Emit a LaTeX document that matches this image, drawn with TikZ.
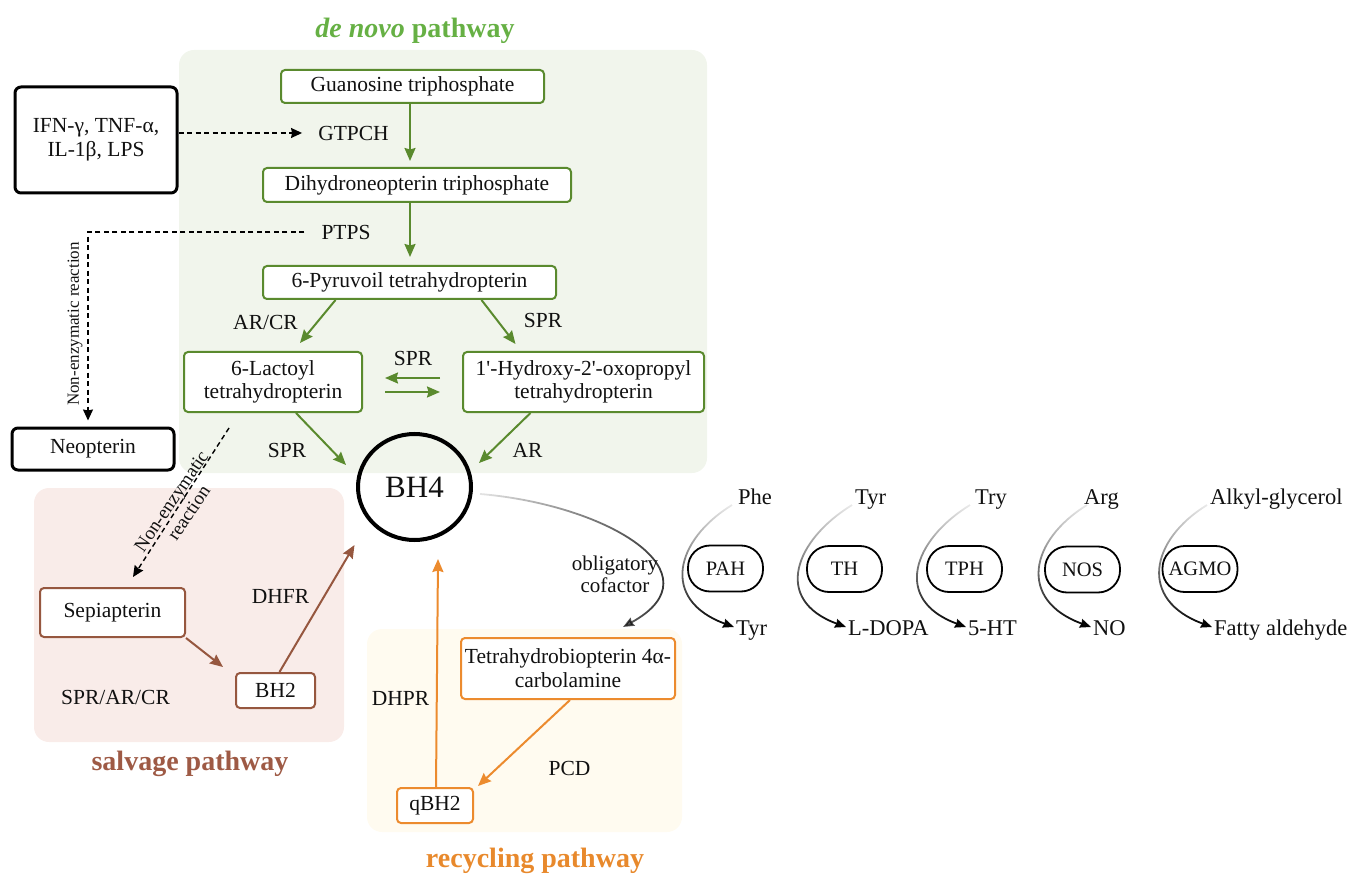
\documentclass[tikz,border=0pt]{standalone}
\usepackage{fontspec}
\setmainfont{Liberation Serif}
\usetikzlibrary{arrows.meta,shapes.geometric,fadings,calc}
\tikzfading[name=fadeH, left color=transparent!90, right color=transparent!0]
\tikzfading[name=fadeV, top color=transparent!92, middle color=transparent!15, bottom color=transparent!0]
\definecolor{gbg}{HTML}{F1F5EC}
\definecolor{pbg}{HTML}{F9ECE9}
\definecolor{ybg}{HTML}{FFFBF0}
\definecolor{gline}{HTML}{5A8A2E}
\definecolor{gtitle}{HTML}{66B044}
\definecolor{bline}{HTML}{96573F}
\definecolor{btitle}{HTML}{9E5A45}
\definecolor{oline}{HTML}{EC8B2E}
\definecolor{otitle}{HTML}{E8892C}
\definecolor{txt}{HTML}{111111}
\begin{document}
\begin{tikzpicture}[x=1pt,y=-1pt,
  every node/.style={inner sep=0pt, text=txt},
  mainf/.style={font=\fontsize{21.5}{23.5}\selectfont},
  labf/.style={font=\fontsize{22.5}{24}\selectfont},
  enzf/.style={font=\fontsize{20.5}{22}\selectfont},
  titlef/.style={font=\fontsize{28}{30}\selectfont\bfseries},
  boxbase/.style={mainf, line width=2pt, fill=white, rounded corners=4pt, align=center},
  gbox/.style={boxbase, draw=gline},
  bbox/.style={boxbase, draw=bline},
  obox/.style={boxbase, draw=oline},
  kbox/.style={boxbase, draw=black, line width=3pt, rounded corners=6pt},
  enzbox/.style={enzf, draw=black, line width=1.8pt, rounded corners=22pt, minimum width=75, minimum height=46},
  garr/.style={draw=gline, line width=2pt, -{Stealth[length=13pt,width=11pt,inset=1.5pt]}},
  barr/.style={draw=bline, line width=2pt, -{Stealth[length=13pt,width=11pt,inset=1.5pt]}},
  oarr/.style={draw=oline, line width=2pt, -{Stealth[length=13pt,width=11pt,inset=1.5pt]}},
  darr/.style={draw=black, line width=1.4pt, dash pattern=on 5pt off 3.5pt, -{Stealth[length=11pt,width=10pt,inset=1pt]}},
  carr/.style={draw=black, line width=1.8pt, -{Stealth[length=11pt,width=9pt,inset=1pt]}},
]
\useasboundingbox (0,0) rectangle (1354,874);
% backgrounds
\fill[gbg, rounded corners=15pt] (179,50) rectangle (707,473);
\fill[pbg, rounded corners=15pt] (34,488) rectangle (344,742);
\fill[ybg, rounded corners=15pt] (367,629) rectangle (682,832);
% titles
\node[titlef, text=gtitle, anchor=base] (tdenovo) at (415,38) {\textit{de novo} pathway};
\node[titlef, text=btitle, anchor=base] (tsalv) at (190,770) {salvage pathway};
\node[titlef, text=otitle, anchor=base] (trecy) at (535,867) {recycling pathway};
% de novo boxes
\node[gbox, minimum width=263, minimum height=33] (gtp) at (412.5,86.5) {Guanosine triphosphate};
\node[gbox, minimum width=308, minimum height=34] (dnt) at (417,185) {Dihydroneopterin triphosphate};
\node[gbox, minimum width=293, minimum height=33] (ptp) at (409.5,282.5) {6-Pyruvoil tetrahydropterin};
\node[gbox, minimum width=178, minimum height=60] (lac) at (273,382) {6-Lactoyl\\tetrahydropterin};
\node[gbox, minimum width=241, minimum height=60] (hyd) at (583.5,382) {1\textquotesingle-Hydroxy-2\textquotesingle-oxopropyl\\tetrahydropterin};
% BH4
\node[ellipse, draw=black, line width=4pt, minimum width=113, minimum height=106, font=\fontsize{31}{33}\selectfont] (bh4) at (414.5,487) {BH4};
% black boxes
\node[kbox, minimum width=162, minimum height=106] (ifn) at (96,140) {IFN-γ, TNF-α,\\IL-1β, LPS};
\node[kbox, minimum width=162, minimum height=42] (neo) at (93,449) {Neopterin};
% labels de novo
\node[mainf] (gtpch) at (353.5,133) {GTPCH};
\node[mainf] (ptps) at (346,232) {PTPS};
\node[mainf] (arcr) at (265.5,322) {AR/CR};
\node[mainf] (spr1) at (543,320) {SPR};
\node[mainf] (spr2) at (413,358) {SPR};
\node[mainf] (spr3) at (287,450) {SPR};
\node[mainf] (ar1) at (527.5,450) {AR};
\node[font=\fontsize{17}{19}\selectfont, rotate=90] (nelab1) at (75,324) {Non-enzymatic reaction};
\node[font=\fontsize{19}{21}\selectfont, rotate=56, align=center] (nelab2) at (180,507) {Non-enzymatic\\reaction};
% de novo arrows
\coordinate (ax) at (410,0);
\coordinate (vx) at (88,0);
\draw[garr] (gtp.south -| ax) -- ([yshift=6pt]dnt.north -| ax);
\draw[garr] (dnt.south -| ax) -- ([yshift=8pt]ptp.north -| ax);
\draw[garr] ([xshift=-74pt]ptp.south) -- ([xshift=27pt,yshift=8pt]lac.north);
\draw[garr] ([xshift=72pt]ptp.south) -- ([xshift=-68pt,yshift=7pt]hyd.north);
\draw[garr] ([xshift=-22pt,yshift=4pt]hyd.west) -- ([xshift=22pt,yshift=4pt]lac.east);
\draw[garr] ([xshift=22pt,yshift=-10pt]lac.east) -- ([xshift=-22pt,yshift=-10pt]hyd.west);
\draw[garr] ([xshift=23pt]lac.south) -- ([xshift=-68.5pt,yshift=22pt]bh4.center);
\draw[garr] ([xshift=-53pt]hyd.south) -- ([xshift=64.5pt,yshift=24pt]bh4.center);
% dashed
\draw[darr] (ifn.east |- gtpch.west) -- ([xshift=-16pt]gtpch.west);
\coordinate (neotop) at ([yshift=6pt]neo.north);
\draw[darr] ([xshift=-17pt]ptps.west) -| (neotop -| vx);
% salvage
\node[bbox, minimum width=145, minimum height=49] (sep) at (112.5,612.5) {Sepiapterin};
\node[bbox, minimum width=79, minimum height=35] (bh2) at (275.5,690.5) {BH2};
\node[mainf] (dhfr) at (280.5,596) {DHFR};
\node[mainf] (sprarcr) at (115.5,697) {SPR/AR/CR};
\draw[darr] ([xshift=46pt,yshift=-15pt]lac.south west) -- ([xshift=20.5pt,yshift=10pt]sep.north);
\draw[barr] (sep.south east) -- ([xshift=-12pt,yshift=5pt]bh2.north west);
\draw[barr] ([xshift=4pt]bh2.north) -- ([xshift=-60pt,yshift=-58pt]bh4.center);
% recycling
\node[obox, minimum width=214, minimum height=61, font=\fontsize{21.5}{24}\selectfont] (t4a) at (568,668.5) {Tetrahydrobiopterin 4α-\\carbolamine};
\node[obox, minimum width=76, minimum height=35] (qbh2) at (435,805.5) {qBH2};
\node[mainf] (dhpr) at (400.5,698) {DHPR};
\node[mainf] (pcd) at (569.5,768) {PCD};
\draw[oarr] ([xshift=2pt]t4a.south) -- ([xshift=4pt,yshift=1pt]qbh2.north east);
\draw[oarr] ([xshift=1pt]qbh2.north) -- ([xshift=23.5pt,yshift=-72pt]bh4.center);
% cofactor
\node[font=\fontsize{21}{22}\selectfont, align=center] (cof) at (615,574) {obligatory\\cofactor};
\draw[carr, path fading=fadeH] ([xshift=65.5pt,yshift=-7pt]bh4.center) .. controls +(130,11) and +(97,-53) .. ([xshift=55pt,yshift=10pt]t4a.north);
% enzymes
\node[enzbox] (pah) at (725.5,568.5) {PAH};
\node[enzbox] (th) at (844.5,569) {TH};
\node[enzbox] (tph) at (964.5,569) {TPH};
\node[enzbox] (nos) at (1082.5,569.5) {NOS};
\node[enzbox] (agmo) at (1200,569) {AGMO};
\node[labf, anchor=base west] (phe) at (738,504) {Phe};
\node[labf, anchor=base west] (tyrt) at (855,504) {Tyr};
\node[labf, anchor=base west] (tryt) at (975,504) {Try};
\node[labf, anchor=base west] (argt) at (1084,504) {Arg};
\node[labf, anchor=base west] (alk) at (1210,504) {Alkyl-glycerol};
\node[labf, anchor=base west] (tyrb) at (736,635) {Tyr};
\node[labf, anchor=base west] (ldopa) at (848,635) {L-DOPA};
\node[labf, anchor=base west] (ht) at (968,635) {5-HT};
\node[labf, anchor=base west] (no) at (1093,635) {NO};
\node[labf, anchor=base west] (fat) at (1214,635) {Fatty aldehyde};
\foreach \a/\b/\s in {phe/tyrb/-6, tyrt/ldopa/-3, tryt/ht/-5, argt/no/3, alk/fat/-3}{
  \draw[carr, path fading=fadeV] ([xshift=\s pt,yshift=-1pt]\a.base west) .. controls +(-57,35) and +(-74,-27) .. ([xshift=-2pt,yshift=8pt]\b.base west);
}
\end{tikzpicture}
\end{document}
